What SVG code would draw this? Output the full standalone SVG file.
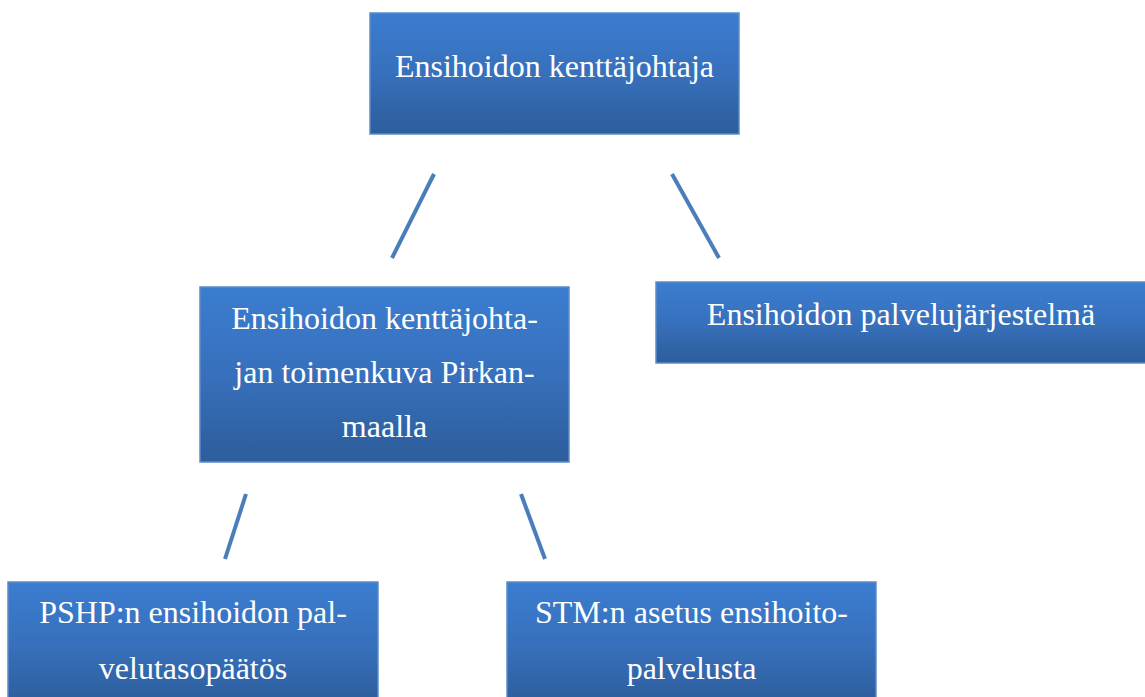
<svg xmlns="http://www.w3.org/2000/svg" width="1145" height="697" viewBox="0 0 1145 697">
<defs>
<linearGradient id="g" x1="0" y1="0" x2="0" y2="1">
<stop offset="0" stop-color="#3b7dd0"/>
<stop offset="0.5" stop-color="#3770bc"/>
<stop offset="1" stop-color="#2d5d9b"/>
</linearGradient>
</defs>
<style>
.box{fill:url(#g);stroke:#5b8cc9;stroke-width:1.5}
.t{font-family:'Liberation Serif','Times New Roman',serif;font-size:32px;fill:#ffffff;text-anchor:middle}
.c{stroke:#4a7ebb;stroke-width:4;fill:none}
</style>
<rect width="1145" height="697" fill="#ffffff"/>
<g id="connectors">
<line class="c" x1="434" y1="174" x2="392" y2="258"/>
<line class="c" x1="672" y1="174" x2="719" y2="258"/>
<line class="c" x1="246" y1="494" x2="225" y2="559"/>
<line class="c" x1="521" y1="494" x2="545" y2="559"/>
</g>
<g id="n1"><rect class="box" x="370" y="13" width="369" height="121"/><text class="t" x="554.5" y="77">Ensihoidon kenttäjohtaja</text></g>
<g id="n2"><rect class="box" x="200" y="287" width="369" height="175"/><text class="t" x="384.5" y="329">Ensihoidon kenttäjohta-</text><text class="t" x="384.5" y="383">jan toimenkuva Pirkan-</text><text class="t" x="384.5" y="437">maalla</text></g>
<g id="n3"><rect class="box" x="656" y="282" width="495" height="81"/><text class="t" x="901" y="325">Ensihoidon palvelujärjestelmä</text></g>
<g id="n4"><rect class="box" x="8" y="582" width="370" height="125"/><text class="t" x="193" y="623">PSHP:n ensihoidon pal-</text><text class="t" x="193" y="679">velutasopäätös</text></g>
<g id="n5"><rect class="box" x="507" y="582" width="369" height="125"/><text class="t" x="691.5" y="623">STM:n asetus ensihoito-</text><text class="t" x="691.5" y="679">palvelusta</text></g>
</svg>
